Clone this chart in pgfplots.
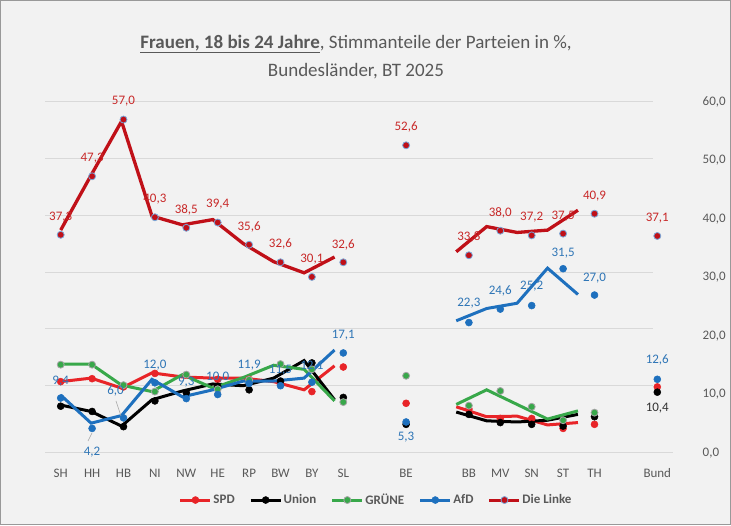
\documentclass[border=0pt]{standalone}
\usepackage{fontspec}
\setmainfont{Carlito}
\usepackage{pgfplots}
\usepackage{pgfplotstable}
\pgfplotsset{compat=1.18}
\definecolor{bg}{RGB}{242,242,242}
\definecolor{txt}{RGB}{89,89,89}
\definecolor{gridc}{RGB}{217,217,217}
\definecolor{spd}{RGB}{232,36,40}
\definecolor{grn}{RGB}{56,168,74}
\definecolor{afd}{RGB}{30,112,190}
\definecolor{linke}{RGB}{192,16,24}
\definecolor{lblue}{RGB}{120,165,215}
\definecolor{mgray}{RGB}{165,165,165}
\definecolor{linketxt}{RGB}{200,40,40}
\definecolor{afdtxt}{RGB}{46,117,182}
\definecolor{uniontxt}{RGB}{50,50,50}

% lines (as drawn, shifted)
\pgfplotstableread{
x spd union gruene afd linke
0     12.2 8.2  15.2 9.9  38.1
0.969 12.8 7.1  15.2 5.1  47.5
1.938 11.1 4.6  11.6 6.4  56.7
2.907 13.7 9.1  10.5 12.6 40.5
3.876 13.0 10.6 13.4 9.6  39.0
4.845 12.8 11.8 11.1 10.8 39.9
5.814 12.8 11.5 12.9 12.3 35.8
6.783 12.2 12.8 15.0 12.3 32.7
7.752 10.8 15.8 14.3 12.8 30.8
8.721 14.9 9.1  8.9  17.6 33.5
10.5  nan  nan  nan  nan  nan
12.597 7.9 7.0  8.3  22.6 34.4
13.566 6.2 5.5  10.8 24.7 38.7
14.535 6.3 5.3  8.3  25.6 37.7
15.504 4.8 5.6  5.8  31.6 38.1
16.473 5.2 6.6  7.2  27.1 41.5
}\lines

\pgfplotstableread{
x y
0 12.2
1 12.7
2 11.3
3 13.6
4 13.3
5 12.6
6 12.6
7 11.7
8 10.5
9 14.7
11 8.5
13 7.5
14 5.9
15 5.9
16 4.2
17 4.9
19 11.3
}\spdm

\pgfplotstableread{
x y
0 8.0
1 7.1
2 4.5
3 8.9
4 10.3
5 11.4
6 10.8
7 12.3
8 15.4
9 9.5
11 4.9
13 6.6
14 5.2
15 4.9
16 4.6
17 6.2
}\unionm

\pgfplotstableread{
x y lab dx dy
19 10.4 10,4 0 -16
}\unionb

\pgfplotstableread{
x y
0 15.1
1 15.1
2 11.6
3 10.5
4 13.4
5 10.9
6 12.5
7 15.2
8 14.3
9 8.7
11 13.2
13 8.1
14 10.6
15 7.9
16 5.6
17 6.9
}\gruenem

\pgfplotstableread{
x y lab dx dy
0 9.4 9,4 0 17
1 4.2 4,2 0 -24
2 6.0 6,0 -8 27
3 12.0 12,0 0 18
4 9.3 9,3 0 16
5 10.0 10,0 0 17
6 11.9 11,9 0 18
7 11.5 11,5 0 16
8 12.1 12,1 0 16
9 17.1 17,1 0 18
11 5.3 5,3 0 -15
13 22.3 22,3 0 19
14 24.6 24,6 0 18
15 25.2 25,2 0 19
16 31.5 31,5 0 16
17 27.0 27,0 0 17
19 12.6 12,6 0 19
}\afdm

\pgfplotstableread{
x y lab dx dy
0 37.3 37,3 0 18
1 47.3 47,3 0 18
2 57.0 57,0 0 18
3 40.3 40,3 0 18
4 38.5 38,5 0 18
5 39.4 39,4 0 18
6 35.6 35,6 0 18
7 32.6 32,6 0 18
8 30.1 30,1 0 18
9 32.6 32,6 0 17
11 52.6 52,6 0 18
13 33.8 33,8 0 18
14 38.0 38,0 0 18
15 37.2 37,2 0 18
16 37.5 37,5 0 18
17 40.9 40,9 0 18
19 37.1 37,1 0 18
}\linkem

\begin{document}
\begin{tikzpicture}[x=1pt,y=1pt]
\fill[bg] (0,0) rectangle (731,525);
\draw[gray!80, line width=0.8pt] (0.4,0.4) rectangle (730.6,524.6);
\node[text=txt, font=\fontsize{19}{22}\selectfont, inner sep=0pt] at (356,481)
  {\underline{\textbf{Frauen, 18 bis 24 Jahre}}, Stimmanteile der Parteien in \%,};
\node[text=txt, font=\fontsize{19}{22}\selectfont, inner sep=0pt] at (356,454)
  {Bundesländer, BT 2025};

% primary axis: gridlines only
\begin{axis}[at={(45pt,72pt)}, anchor=south west, scale only axis,
  width=608pt, height=351pt, xmin=-0.5, xmax=19.5, ymin=-1.9, ymax=60,
  ytick={10,20,...,60}, xtick=\empty, yticklabels={},
  ymajorgrids, major grid style={draw=gridc, line width=1pt},
  axis line style={draw=none}, major tick length=0pt]
\end{axis}

\begin{axis}[at={(45pt,72pt)}, anchor=south west, scale only axis,
  width=628pt, height=351pt, xmin=-0.5, xmax=19.5, ymin=0, ymax=60,
  clip=false,
  axis x line*=bottom, axis y line*=right,
  x axis line style={draw=gridc, line width=1pt},
  y axis line style={draw=none},
  xtick={0,1,2,3,4,5,6,7,8,9,11,13,14,15,16,17,19},
  xticklabels={SH,HH,HB,NI,NW,HE,RP,BW,BY,SL,BE,BB,MV,SN,ST,TH,Bund},
  ytick={0,10,...,60},
  major tick length=0pt,
  tick label style={text=txt, font=\fontsize{13}{15}\selectfont},
  xticklabel style={anchor=center, yshift=-20pt},
  yticklabel={\makebox[0pt][l]{\pgfmathprintnumber{\tick}}},
  yticklabel style={inner sep=0pt, xshift=29pt},
  /pgf/number format/fixed, /pgf/number format/fixed zerofill,
  /pgf/number format/precision=1, /pgf/number format/use comma,
  /pgf/number format/assume math mode=true,
  legend columns=5,
  legend style={at={(0.527,-0.134)}, anchor=center, draw=none, fill=none,
    font=\bfseries\fontsize{13}{15}\selectfont, text=txt,
    nodes={inner sep=1.5pt},
    /tikz/every even column/.append style={column sep=13pt}},
  legend image code/.code={\draw[mark repeat=2, mark phase=2, #1] plot coordinates {(0pt,0pt) (15pt,0pt) (30pt,0pt)};},
  mlabel/.style={nodes near coords, point meta=explicit symbolic,
    visualization depends on={\thisrow{dx}\as\mydx},
    visualization depends on={\thisrow{dy}\as\mydy},
    nodes near coords style={anchor=center, inner sep=0pt, xshift=\mydx, yshift=\mydy,
      font=\fontsize{13}{15}\selectfont}},
]
% legend images
\addlegendimage{spd, line width=3pt, mark=*, mark size=3.5pt, mark options={solid, fill=spd, draw=spd, line width=0.5pt}}
\addlegendentry{SPD}
\addlegendimage{black, line width=3pt, mark=*, mark size=3.5pt, mark options={solid, fill=black, draw=black, line width=0.5pt}}
\addlegendentry{Union}
\addlegendimage{grn, line width=3pt, mark=*, mark size=3.5pt, mark options={solid, fill=grn, draw=mgray, line width=0.8pt}}
\addlegendentry{GRÜNE}
\addlegendimage{afd, line width=3pt, mark=*, mark size=3.5pt, mark options={solid, fill=afd, draw=afd, line width=0.5pt}}
\addlegendentry{AfD}
\addlegendimage{linke, line width=3pt, mark=*, mark size=3.5pt, mark options={solid, fill=linke, draw=lblue, line width=0.8pt}}
\addlegendentry{Die Linke}

% lines
\addplot[spd, line width=3pt, no marks, unbounded coords=jump, forget plot] table[x=x, y=spd] {\lines};
\addplot[black, line width=3pt, no marks, unbounded coords=jump, forget plot] table[x=x, y=union] {\lines};
\addplot[grn, line width=3pt, no marks, unbounded coords=jump, forget plot] table[x=x, y=gruene] {\lines};
\addplot[afd, line width=3pt, no marks, unbounded coords=jump, forget plot] table[x=x, y=afd] {\lines};
\addplot[linke, line width=3.3pt, no marks, unbounded coords=jump, forget plot] table[x=x, y=linke] {\lines};

% markers
\addplot[only marks, mark=*, mark size=3.5pt, mark options={fill=spd, draw=spd, line width=0.5pt}, forget plot] table[x=x, y=y] {\spdm};
\addplot[only marks, mark=*, mark size=3.5pt, mark options={fill=black, draw=black, line width=0.5pt}, forget plot] table[x=x, y=y] {\unionm};
\addplot[only marks, mark=*, mark size=3.5pt, mark options={fill=black, draw=black, line width=0.5pt}, forget plot,
  mlabel, nodes near coords style={text=uniontxt}] table[x=x, y=y, meta=lab] {\unionb};
\addplot[only marks, mark=*, mark size=3.5pt, mark options={fill=grn, draw=mgray, line width=0.8pt}, forget plot] table[x=x, y=y] {\gruenem};
\addplot[only marks, mark=*, mark size=3.5pt, mark options={fill=afd, draw=afd, line width=0.5pt}, forget plot,
  mlabel, nodes near coords style={text=afdtxt}] table[x=x, y=y, meta=lab] {\afdm};
\addplot[only marks, mark=*, mark size=3.5pt, mark options={fill=linke, draw=lblue, line width=0.8pt}, forget plot,
  mlabel, nodes near coords style={text=linketxt}] table[x=x, y=y, meta=lab] {\linkem};
\end{axis}

% leader lines of two labels
\draw[mgray, line width=0.6pt] (88,84) -- (92,92);
\draw[mgray, line width=0.6pt] (116,124) -- (121,109);
\end{tikzpicture}
\end{document}
